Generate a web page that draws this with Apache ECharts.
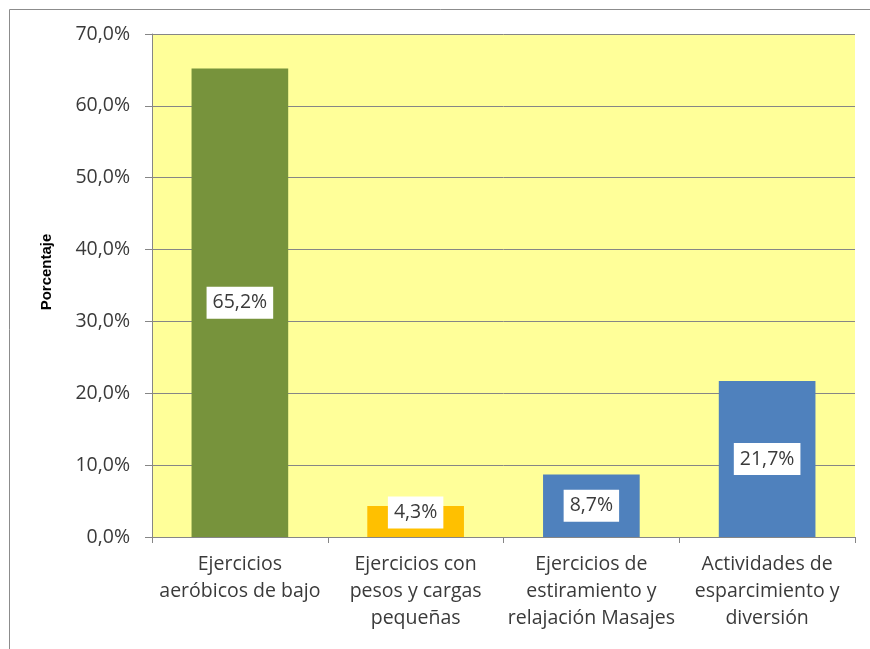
<!DOCTYPE html>
<html>
<head>
<meta charset="utf-8">
<script src="https://cdn.jsdelivr.net/npm/echarts@6/dist/echarts.min.js"></script>
<style>
  html, body { margin: 0; padding: 0; background: #fff; }
  #main { width: 870px; height: 649px; }
</style>
</head>
<body>
<div id="main"></div>
<script>
const categories = [
  'Ejercicios\naeróbicos de bajo',
  'Ejercicios con\npesos y cargas\npequeñas',
  'Ejercicios de\nestiramiento y\nrelajación Masajes',
  'Actividades de\nesparcimiento y\ndiversión'
];
const values = [65.2, 4.3, 8.7, 21.7];
const barColors = ['#77933C', '#FFC000', '#4F81BD', '#4F81BD'];

const chart = echarts.init(document.getElementById('main'));

const fmt = v => v.toFixed(1).replace('.', ',') + '%';

chart.setOption({
  animation: false,
  textStyle: { fontFamily: 'Open Sans' },
  graphic: [{
    type: 'rect',
    shape: { x: 9.5, y: 9.5, width: 900, height: 700 },
    style: { fill: null, stroke: '#8c8c8c', lineWidth: 1 },
    z: -1
  }, {
    type: 'text',
    x: 47, y: 272,
    rotation: Math.PI / 2,
    style: {
      text: 'Porcentaje',
      fill: '#000',
      font: 'bold 15px "Liberation Sans"',
      align: 'center',
      verticalAlign: 'middle'
    }
  }],
  grid: {
    left: 152, right: 15, top: 34, bottom: 112,
    show: true,
    backgroundColor: '#FFFF99',
    borderWidth: 0
  },
  xAxis: {
    type: 'category',
    data: categories,
    axisLine: { lineStyle: { color: '#868686' } },
    axisTick: { show: true, length: 6, lineStyle: { color: '#868686' } },
    axisLabel: {
      color: '#3a3a3a',
      fontSize: 19.5,
      lineHeight: 27,
      margin: 14,
      interval: 0
    }
  },
  yAxis: {
    type: 'value',
    min: 0,
    max: 70,
    interval: 10,
    axisLine: { show: true, lineStyle: { color: '#868686' } },
    axisTick: { show: true, length: 7, lineStyle: { color: '#868686' } },
    splitLine: { lineStyle: { color: '#868686', width: 1 } },
    axisLabel: {
      color: '#3a3a3a',
      fontSize: 19.5,
      margin: 22,
      formatter: v => fmt(v)
    }
  },
  series: [{
    type: 'bar',
    data: values.map((v, i) => ({
      value: v,
      itemStyle: { color: barColors[i] },
      // the small bar's label sits a little above its centre
      label: v < 6 ? { offset: [0, -9] } : undefined
    })),
    barWidth: '55%',
    label: {
      show: true,
      position: 'inside',
      formatter: p => fmt(p.value),
      color: '#3a3a3a',
      fontSize: 19.5,
      backgroundColor: '#fff',
      padding: [7, 6, 5, 6]
    }
  }]
});
</script>
</body>
</html>
